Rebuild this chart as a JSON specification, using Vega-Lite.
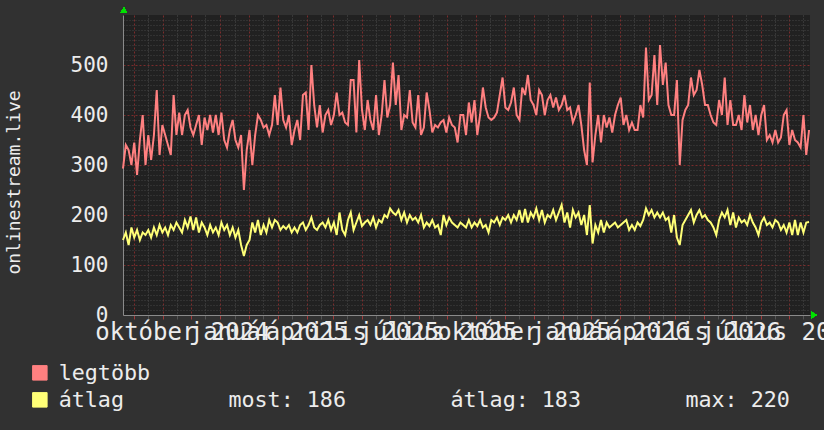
{
"$schema": "https://vega.github.io/schema/vega-lite/v6.json",
"width": 687, "height": 300,
"autosize": {"type": "none"},
"padding": {"left": 123, "top": 15, "right": 14, "bottom": 115},
"background": "#313131",
"config": {"view": {"stroke": null, "fill": "#212121"}, "font": "DejaVu Sans Mono",
 "axis": {"labelOverlap": false, "labelFont": "DejaVu Sans Mono", "labelColor": "#ececec", "domainColor": "#8a8a8a", "domainWidth": 1, "gridOpacity": 1, "gridWidth": 1}},
"data": {"format": {"parse": {"d": "utc:'%Y-%m-%d'"}}, "values": [
{"d":"2024-07-20","legtöbb":293,"átlag":150},{"d":"2024-07-23","legtöbb":340,"átlag":165},{"d":"2024-07-26","legtöbb":330,"átlag":140},{"d":"2024-07-29","legtöbb":300,"átlag":175},
{"d":"2024-08-01","legtöbb":345,"átlag":155},{"d":"2024-08-04","legtöbb":280,"átlag":170},{"d":"2024-08-07","legtöbb":350,"átlag":150},{"d":"2024-08-10","legtöbb":400,"átlag":165},{"d":"2024-08-13","legtöbb":300,"átlag":160},{"d":"2024-08-16","legtöbb":360,"átlag":170},{"d":"2024-08-19","legtöbb":310,"átlag":155},{"d":"2024-08-22","legtöbb":360,"átlag":175},{"d":"2024-08-25","legtöbb":450,"átlag":160},{"d":"2024-08-28","legtöbb":320,"átlag":180},{"d":"2024-08-31","legtöbb":380,"átlag":165},
{"d":"2024-09-03","legtöbb":360,"átlag":175},{"d":"2024-09-06","legtöbb":340,"átlag":160},{"d":"2024-09-09","legtöbb":320,"átlag":180},{"d":"2024-09-12","legtöbb":440,"átlag":170},{"d":"2024-09-15","legtöbb":360,"átlag":185},{"d":"2024-09-18","legtöbb":405,"átlag":175},{"d":"2024-09-21","legtöbb":360,"átlag":165},{"d":"2024-09-24","legtöbb":400,"átlag":190},{"d":"2024-09-27","legtöbb":410,"átlag":175},{"d":"2024-09-30","legtöbb":375,"átlag":197},
{"d":"2024-10-03","legtöbb":360,"átlag":170},{"d":"2024-10-06","legtöbb":380,"átlag":195},{"d":"2024-10-09","legtöbb":400,"átlag":165},{"d":"2024-10-12","legtöbb":340,"átlag":185},{"d":"2024-10-15","legtöbb":395,"átlag":175},{"d":"2024-10-18","legtöbb":370,"átlag":160},{"d":"2024-10-21","legtöbb":400,"átlag":180},{"d":"2024-10-24","legtöbb":365,"átlag":165},{"d":"2024-10-27","legtöbb":400,"átlag":175},{"d":"2024-10-30","legtöbb":360,"átlag":160},
{"d":"2024-11-02","legtöbb":405,"átlag":185},{"d":"2024-11-05","legtöbb":350,"átlag":170},{"d":"2024-11-08","legtöbb":335,"átlag":180},{"d":"2024-11-11","legtöbb":370,"átlag":160},{"d":"2024-11-14","legtöbb":390,"átlag":175},{"d":"2024-11-17","legtöbb":350,"átlag":155},{"d":"2024-11-20","legtöbb":335,"átlag":170},{"d":"2024-11-23","legtöbb":360,"átlag":140},{"d":"2024-11-26","legtöbb":250,"átlag":118},{"d":"2024-11-29","legtöbb":330,"átlag":140},
{"d":"2024-12-02","legtöbb":370,"átlag":150},{"d":"2024-12-05","legtöbb":300,"átlag":185},{"d":"2024-12-08","legtöbb":360,"átlag":165},{"d":"2024-12-11","legtöbb":400,"átlag":190},{"d":"2024-12-14","legtöbb":390,"átlag":160},{"d":"2024-12-17","legtöbb":375,"átlag":180},{"d":"2024-12-20","legtöbb":380,"átlag":165},{"d":"2024-12-23","legtöbb":360,"átlag":190},{"d":"2024-12-26","legtöbb":380,"átlag":175},{"d":"2024-12-29","legtöbb":440,"átlag":190},
{"d":"2025-01-01","legtöbb":380,"átlag":185},{"d":"2025-01-04","legtöbb":455,"átlag":170},{"d":"2025-01-07","legtöbb":390,"átlag":178},{"d":"2025-01-10","legtöbb":375,"átlag":172},{"d":"2025-01-13","legtöbb":400,"átlag":180},{"d":"2025-01-16","legtöbb":340,"átlag":165},{"d":"2025-01-19","legtöbb":370,"átlag":175},{"d":"2025-01-22","legtöbb":390,"átlag":165},{"d":"2025-01-25","legtöbb":350,"átlag":180},{"d":"2025-01-28","legtöbb":440,"átlag":185},{"d":"2025-01-31","legtöbb":445,"átlag":170},
{"d":"2025-02-03","legtöbb":370,"átlag":180},{"d":"2025-02-06","legtöbb":500,"átlag":195},{"d":"2025-02-09","legtöbb":420,"átlag":175},{"d":"2025-02-12","legtöbb":375,"átlag":170},{"d":"2025-02-15","legtöbb":420,"átlag":180},{"d":"2025-02-18","legtöbb":365,"átlag":185},{"d":"2025-02-21","legtöbb":400,"átlag":175},{"d":"2025-02-24","legtöbb":410,"átlag":190},{"d":"2025-02-27","legtöbb":380,"átlag":170},
{"d":"2025-03-02","legtöbb":400,"átlag":185},{"d":"2025-03-05","legtöbb":445,"átlag":160},{"d":"2025-03-08","legtöbb":400,"átlag":205},{"d":"2025-03-11","legtöbb":405,"átlag":170},{"d":"2025-03-14","legtöbb":385,"átlag":160},{"d":"2025-03-17","legtöbb":380,"átlag":190},{"d":"2025-03-20","legtöbb":470,"átlag":205},{"d":"2025-03-23","legtöbb":470,"átlag":170},{"d":"2025-03-26","legtöbb":365,"átlag":185},{"d":"2025-03-29","legtöbb":510,"átlag":200},
{"d":"2025-04-01","legtöbb":410,"átlag":178},{"d":"2025-04-04","legtöbb":370,"átlag":185},{"d":"2025-04-07","legtöbb":430,"átlag":190},{"d":"2025-04-10","legtöbb":390,"átlag":180},{"d":"2025-04-13","legtöbb":370,"átlag":195},{"d":"2025-04-16","legtöbb":440,"átlag":175},{"d":"2025-04-19","legtöbb":360,"átlag":190},{"d":"2025-04-22","legtöbb":400,"átlag":185},{"d":"2025-04-25","legtöbb":470,"átlag":200},{"d":"2025-04-28","legtöbb":395,"átlag":195},
{"d":"2025-05-01","legtöbb":420,"átlag":213},{"d":"2025-05-04","legtöbb":505,"átlag":205},{"d":"2025-05-07","legtöbb":420,"átlag":200},{"d":"2025-05-10","legtöbb":480,"átlag":210},{"d":"2025-05-13","legtöbb":370,"átlag":190},{"d":"2025-05-16","legtöbb":400,"átlag":205},{"d":"2025-05-19","legtöbb":395,"átlag":185},{"d":"2025-05-22","legtöbb":450,"átlag":200},{"d":"2025-05-25","legtöbb":385,"átlag":190},{"d":"2025-05-28","legtöbb":375,"átlag":195},{"d":"2025-05-31","legtöbb":440,"átlag":185},
{"d":"2025-06-03","legtöbb":360,"átlag":200},{"d":"2025-06-06","legtöbb":375,"átlag":175},{"d":"2025-06-09","legtöbb":445,"átlag":185},{"d":"2025-06-12","legtöbb":410,"átlag":178},{"d":"2025-06-15","legtöbb":365,"átlag":190},{"d":"2025-06-18","legtöbb":380,"átlag":175},{"d":"2025-06-21","legtöbb":375,"átlag":180},{"d":"2025-06-24","legtöbb":385,"átlag":160},{"d":"2025-06-27","legtöbb":390,"átlag":200},{"d":"2025-06-30","legtöbb":365,"átlag":180},
{"d":"2025-07-03","legtöbb":395,"átlag":195},{"d":"2025-07-06","legtöbb":380,"átlag":185},{"d":"2025-07-09","legtöbb":375,"átlag":180},{"d":"2025-07-12","legtöbb":345,"átlag":175},{"d":"2025-07-15","legtöbb":400,"átlag":185},{"d":"2025-07-18","legtöbb":400,"átlag":180},{"d":"2025-07-21","legtöbb":360,"átlag":175},{"d":"2025-07-24","legtöbb":425,"átlag":190},{"d":"2025-07-27","legtöbb":385,"átlag":175},{"d":"2025-07-30","legtöbb":430,"átlag":185},
{"d":"2025-08-02","legtöbb":360,"átlag":178},{"d":"2025-08-05","legtöbb":400,"átlag":190},{"d":"2025-08-08","legtöbb":455,"átlag":175},{"d":"2025-08-11","legtöbb":415,"átlag":180},{"d":"2025-08-14","legtöbb":395,"átlag":165},{"d":"2025-08-17","legtöbb":390,"átlag":190},{"d":"2025-08-20","legtöbb":395,"átlag":185},{"d":"2025-08-23","legtöbb":405,"átlag":195},{"d":"2025-08-26","legtöbb":440,"átlag":180},{"d":"2025-08-29","legtöbb":475,"átlag":195},
{"d":"2025-09-01","legtöbb":415,"átlag":190},{"d":"2025-09-04","legtöbb":410,"átlag":200},{"d":"2025-09-07","legtöbb":425,"átlag":185},{"d":"2025-09-10","legtöbb":455,"átlag":200},{"d":"2025-09-13","legtöbb":400,"átlag":190},{"d":"2025-09-16","legtöbb":390,"átlag":210},{"d":"2025-09-19","legtöbb":455,"átlag":185},{"d":"2025-09-22","legtöbb":440,"átlag":212},{"d":"2025-09-25","legtöbb":480,"átlag":185},{"d":"2025-09-28","legtöbb":430,"átlag":205},
{"d":"2025-10-01","legtöbb":420,"átlag":195},{"d":"2025-10-04","legtöbb":400,"átlag":213},{"d":"2025-10-07","legtöbb":450,"átlag":190},{"d":"2025-10-10","legtöbb":440,"átlag":210},{"d":"2025-10-13","legtöbb":400,"átlag":185},{"d":"2025-10-16","legtöbb":430,"átlag":200},{"d":"2025-10-19","legtöbb":440,"átlag":195},{"d":"2025-10-22","legtöbb":415,"átlag":210},{"d":"2025-10-25","legtöbb":435,"átlag":190},{"d":"2025-10-28","legtöbb":410,"átlag":205},{"d":"2025-10-31","legtöbb":420,"átlag":220},
{"d":"2025-11-03","legtöbb":440,"átlag":185},{"d":"2025-11-06","legtöbb":410,"átlag":205},{"d":"2025-11-09","legtöbb":415,"átlag":175},{"d":"2025-11-12","legtöbb":385,"átlag":210},{"d":"2025-11-15","legtöbb":400,"átlag":195},{"d":"2025-11-18","legtöbb":420,"átlag":205},{"d":"2025-11-21","legtöbb":380,"átlag":180},{"d":"2025-11-24","legtöbb":330,"átlag":200},{"d":"2025-11-27","legtöbb":300,"átlag":160},{"d":"2025-11-30","legtöbb":465,"átlag":220},
{"d":"2025-12-03","legtöbb":305,"átlag":143},{"d":"2025-12-06","legtöbb":360,"átlag":180},{"d":"2025-12-09","legtöbb":400,"átlag":165},{"d":"2025-12-12","legtöbb":345,"átlag":190},{"d":"2025-12-15","legtöbb":400,"átlag":165},{"d":"2025-12-18","legtöbb":375,"átlag":185},{"d":"2025-12-21","legtöbb":395,"átlag":175},{"d":"2025-12-24","legtöbb":365,"átlag":180},{"d":"2025-12-27","legtöbb":400,"átlag":185},{"d":"2025-12-30","legtöbb":420,"átlag":175},
{"d":"2026-01-02","legtöbb":435,"átlag":180},{"d":"2026-01-05","legtöbb":380,"átlag":185},{"d":"2026-01-08","legtöbb":400,"átlag":190},{"d":"2026-01-11","legtöbb":370,"átlag":170},{"d":"2026-01-14","legtöbb":385,"átlag":180},{"d":"2026-01-17","legtöbb":370,"átlag":170},{"d":"2026-01-20","legtöbb":370,"átlag":185},{"d":"2026-01-23","legtöbb":420,"átlag":178},{"d":"2026-01-26","legtöbb":395,"átlag":190},{"d":"2026-01-29","legtöbb":535,"átlag":213},
{"d":"2026-02-01","legtöbb":430,"átlag":200},{"d":"2026-02-04","legtöbb":440,"átlag":210},{"d":"2026-02-07","legtöbb":520,"átlag":195},{"d":"2026-02-10","legtöbb":420,"átlag":205},{"d":"2026-02-13","legtöbb":540,"átlag":195},{"d":"2026-02-16","legtöbb":460,"átlag":205},{"d":"2026-02-19","legtöbb":505,"átlag":190},{"d":"2026-02-22","legtöbb":420,"átlag":195},{"d":"2026-02-25","legtöbb":400,"átlag":165},{"d":"2026-02-28","legtöbb":400,"átlag":200},
{"d":"2026-03-03","legtöbb":470,"átlag":155},{"d":"2026-03-06","legtöbb":300,"átlag":140},{"d":"2026-03-09","legtöbb":390,"átlag":180},{"d":"2026-03-12","legtöbb":410,"átlag":190},{"d":"2026-03-15","legtöbb":420,"átlag":200},{"d":"2026-03-18","legtöbb":475,"átlag":210},{"d":"2026-03-21","legtöbb":440,"átlag":185},{"d":"2026-03-24","legtöbb":450,"átlag":200},{"d":"2026-03-27","legtöbb":490,"átlag":210},{"d":"2026-03-30","legtöbb":460,"átlag":195},
{"d":"2026-04-02","legtöbb":420,"átlag":200},{"d":"2026-04-05","legtöbb":420,"átlag":190},{"d":"2026-04-08","legtöbb":400,"átlag":185},{"d":"2026-04-11","legtöbb":385,"átlag":175},{"d":"2026-04-14","legtöbb":380,"átlag":160},{"d":"2026-04-17","legtöbb":430,"átlag":190},{"d":"2026-04-20","legtöbb":400,"átlag":205},{"d":"2026-04-23","legtöbb":475,"átlag":195},{"d":"2026-04-26","legtöbb":380,"átlag":210},{"d":"2026-04-29","legtöbb":430,"átlag":180},
{"d":"2026-05-02","legtöbb":380,"átlag":205},{"d":"2026-05-05","legtöbb":380,"átlag":175},{"d":"2026-05-08","legtöbb":400,"átlag":195},{"d":"2026-05-11","legtöbb":370,"átlag":185},{"d":"2026-05-14","legtöbb":440,"átlag":190},{"d":"2026-05-17","legtöbb":385,"átlag":180},{"d":"2026-05-20","legtöbb":420,"átlag":200},{"d":"2026-05-23","legtöbb":370,"átlag":185},{"d":"2026-05-26","legtöbb":400,"átlag":175},{"d":"2026-05-29","legtöbb":360,"átlag":160},
{"d":"2026-06-01","legtöbb":400,"átlag":185},{"d":"2026-06-04","legtöbb":420,"átlag":195},{"d":"2026-06-07","legtöbb":350,"átlag":180},{"d":"2026-06-10","legtöbb":360,"átlag":185},{"d":"2026-06-13","legtöbb":345,"átlag":175},{"d":"2026-06-16","legtöbb":370,"átlag":190},{"d":"2026-06-19","legtöbb":345,"átlag":185},{"d":"2026-06-22","legtöbb":355,"átlag":170},{"d":"2026-06-25","legtöbb":400,"átlag":180},{"d":"2026-06-28","legtöbb":410,"átlag":165},
{"d":"2026-07-01","legtöbb":340,"átlag":185},{"d":"2026-07-04","legtöbb":370,"átlag":160},{"d":"2026-07-07","legtöbb":350,"átlag":190},{"d":"2026-07-10","legtöbb":345,"átlag":160},{"d":"2026-07-13","legtöbb":335,"átlag":185},{"d":"2026-07-16","legtöbb":400,"átlag":165},{"d":"2026-07-19","legtöbb":320,"átlag":185},{"d":"2026-07-22","legtöbb":370,"átlag":186}
]},
"layer": [
{
"transform": [{"fold": ["legtöbb", "átlag"], "as": ["series", "value"]}],
"mark": {"type": "line", "strokeWidth": 2},
"encoding": {
"x": {"field": "d", "type": "temporal",
 "scale": {"type": "utc", "domain": [1721433600000, 1784764800000]},
 "axis": {"title": null, "tickCount": 1000,
  "values": [1722470400000,1723766400000,1725148800000,1726444800000,1727740800000,1729036800000,1730419200000,1731715200000,1733011200000,1734307200000,1735689600000,1736985600000,1738368000000,1739664000000,1740787200000,1742083200000,1743465600000,1744761600000,1746057600000,1747353600000,1748736000000,1750032000000,1751328000000,1752624000000,1754006400000,1755302400000,1756684800000,1757980800000,1759276800000,1760572800000,1761955200000,1763251200000,1764547200000,1765843200000,1767225600000,1768521600000,1769904000000,1771200000000,1772323200000,1773619200000,1775001600000,1776297600000,1777593600000,1778889600000,1780272000000,1781568000000,1782864000000,1784160000000],
  "grid": true,
  "gridColor": {"condition": {"test": "utcdate(datum.value) == 1", "value": "#7a2c2c"}, "value": "#4e4e4e"},
  "gridDash": {"condition": {"test": "utcdate(datum.value) == 1", "value": [2, 2]}, "value": [1, 2]},
  "ticks": true, "tickSize": 4,
  "tickColor": {"condition": {"test": "utcdate(datum.value) == 1", "value": "#a03a3a"}, "value": "#555555"},
  "labelExpr": "utcdate(datum.value) == 1 && utcmonth(datum.value) % 3 == 0 ? ['január','február','március','április','május','június','július','augusztus','szeptember','október','november','december'][utcmonth(datum.value)] + ' ' + utcyear(datum.value) : ''",
  "labelOverlap": false, "labelBound": false, "labelFlush": false, "labelOffset": -10,
  "labelFontSize": 24, "labelBaseline": "alphabetic", "labelPadding": 20
 }
},
"y": {"field": "value", "type": "quantitative",
 "scale": {"domain": [0, 600], "nice": false, "zero": true},
 "axis": {"title": "onlinestream.live", "tickCount": 1000, "format": "d",
  "values": [0,10,20,30,40,50,60,70,80,90,100,110,120,130,140,150,160,170,180,190,200,210,220,230,240,250,260,270,280,290,300,310,320,330,340,350,360,370,380,390,400,410,420,430,440,450,460,470,480,490,500,510,520,530,540,550,560,570,580,590],
  "grid": true,
  "gridColor": {"condition": {"test": "datum.value % 100 == 0", "value": "#7a2c2c"}, "value": "#444444"},
  "gridDash": {"condition": {"test": "datum.value % 100 == 0", "value": [2, 2]}, "value": [1, 2]},
  "ticks": false, "labelOverlap": false,
  "labelExpr": "datum.value % 100 == 0 ? datum.label : ''",
  "labelFontSize": 21, "labelPadding": 15,
  "titleFont": "DejaVu Sans Mono", "titleFontSize": 18, "titleFontWeight": "normal", "titleColor": "#ececec", "titlePadding": 47, "titleY": 167, "titleAlign": "center"
 }
},
"color": {"field": "series", "type": "nominal",
 "scale": {"domain": ["legtöbb", "átlag"], "range": ["#ff8080", "#ffff77"]},
 "legend": {"title": null, "orient": "none", "legendX": -94, "legendY": 347, "direction": "vertical",
  "symbolType": "square", "symbolSize": 210, "symbolStrokeWidth": 1, "symbolStrokeColor": "#000000",
  "labelFont": "DejaVu Sans Mono", "labelFontSize": 21.7, "labelColor": "#ececec", "labelLimit": 2000,
  "labelOffset": 8, "rowPadding": 4,
  "labelExpr": "datum.label == 'átlag' ? 'átlag\u00a0\u00a0\u00a0\u00a0\u00a0\u00a0\u00a0\u00a0most: 186\u00a0\u00a0\u00a0\u00a0\u00a0\u00a0\u00a0\u00a0átlag: 183\u00a0\u00a0\u00a0\u00a0\u00a0\u00a0\u00a0\u00a0max: 220' : datum.label",
  "encode": {"symbols": {"update": {"fill": {"scale": "color", "field": "value"}, "fillOpacity": {"value": 1}, "stroke": {"value": "#000000"}, "opacity": {"value": 1}}}}
 }
}
}
},
{
"mark": {"type": "point", "shape": "triangle-up", "filled": true, "color": "#00e000", "size": 40, "yOffset": -5, "opacity": 1},
"encoding": {
 "x": {"datum": 1721520000000, "type": "temporal",
  "axis": {"title": null, "tickCount": 1000,
  "values": [1722470400000,1723766400000,1725148800000,1726444800000,1727740800000,1729036800000,1730419200000,1731715200000,1733011200000,1734307200000,1735689600000,1736985600000,1738368000000,1739664000000,1740787200000,1742083200000,1743465600000,1744761600000,1746057600000,1747353600000,1748736000000,1750032000000,1751328000000,1752624000000,1754006400000,1755302400000,1756684800000,1757980800000,1759276800000,1760572800000,1761955200000,1763251200000,1764547200000,1765843200000,1767225600000,1768521600000,1769904000000,1771200000000,1772323200000,1773619200000,1775001600000,1776297600000,1777593600000,1778889600000,1780272000000,1781568000000,1782864000000,1784160000000],
  "grid": true,
  "gridColor": {"condition": {"test": "utcdate(datum.value) == 1", "value": "#7a2c2c"}, "value": "#4e4e4e"},
  "gridDash": {"condition": {"test": "utcdate(datum.value) == 1", "value": [2, 2]}, "value": [1, 2]},
  "ticks": true, "tickSize": 4,
  "tickColor": {"condition": {"test": "utcdate(datum.value) == 1", "value": "#a03a3a"}, "value": "#555555"},
  "labelExpr": "utcdate(datum.value) == 1 && utcmonth(datum.value) % 3 == 0 ? ['január','február','március','április','május','június','július','augusztus','szeptember','október','november','december'][utcmonth(datum.value)] + ' ' + utcyear(datum.value) : ''",
  "labelOverlap": false, "labelBound": false, "labelFlush": false, "labelOffset": -10,
  "labelFontSize": 24, "labelBaseline": "alphabetic", "labelPadding": 20
  }
 },
 "y": {"datum": 600, "type": "quantitative",
  "axis": {"title": "onlinestream.live", "tickCount": 1000, "format": "d",
  "values": [0,10,20,30,40,50,60,70,80,90,100,110,120,130,140,150,160,170,180,190,200,210,220,230,240,250,260,270,280,290,300,310,320,330,340,350,360,370,380,390,400,410,420,430,440,450,460,470,480,490,500,510,520,530,540,550,560,570,580,590],
  "grid": true,
  "gridColor": {"condition": {"test": "datum.value % 100 == 0", "value": "#7a2c2c"}, "value": "#444444"},
  "gridDash": {"condition": {"test": "datum.value % 100 == 0", "value": [2, 2]}, "value": [1, 2]},
  "ticks": false, "labelOverlap": false,
  "labelExpr": "datum.value % 100 == 0 ? datum.label : ''",
  "labelFontSize": 21, "labelPadding": 15,
  "titleFont": "DejaVu Sans Mono", "titleFontSize": 18, "titleFontWeight": "normal", "titleColor": "#ececec", "titlePadding": 47, "titleY": 167, "titleAlign": "center"
  }
 }
}
},
{
"mark": {"type": "point", "shape": "triangle-right", "filled": true, "color": "#00e000", "size": 40, "xOffset": 4, "opacity": 1},
"encoding": {"x": {"datum": 1784764800000, "type": "temporal"}, "y": {"datum": 0, "type": "quantitative"}}
}
]
}
